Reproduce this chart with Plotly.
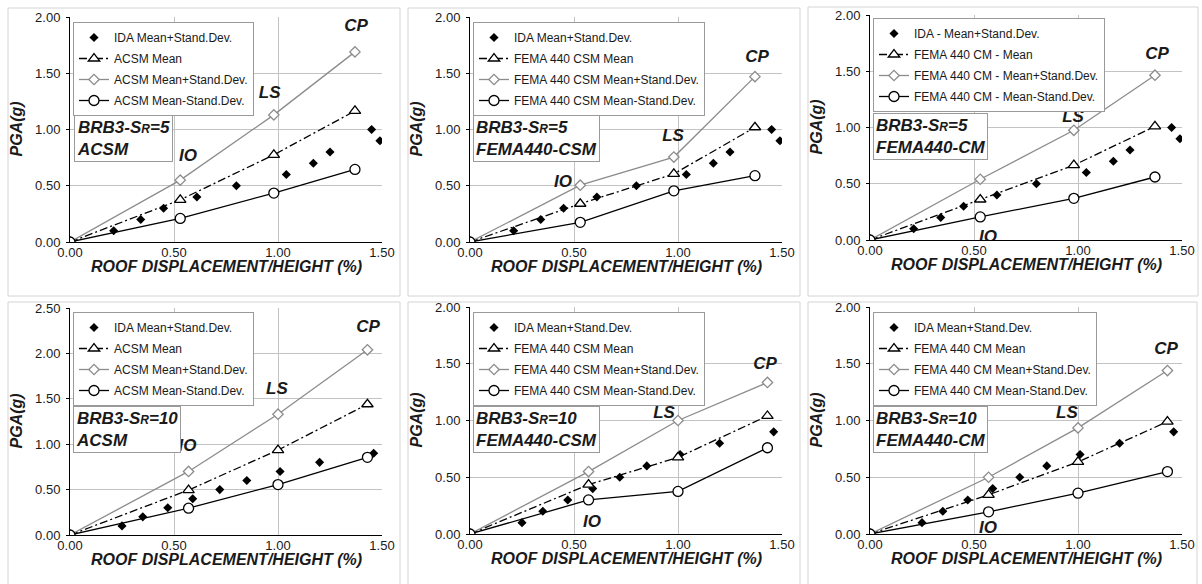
import plotly.graph_objects as go

W, H = 1202, 584

# ---------------- data ----------------
# IDA mean+stand.dev. points (top row: S_R=5, bottom row: S_R=10)
ida_x_sr5 = [0.00, 0.21, 0.34, 0.45, 0.61, 0.80, 1.04, 1.17, 1.25, 1.45, 1.49]
ida_y_sr5 = [0.00, 0.10, 0.20, 0.30, 0.40, 0.50, 0.60, 0.70, 0.80, 1.00, 0.90]
ida_x_sr10 = [0.00, 0.25, 0.35, 0.47, 0.59, 0.72, 0.85, 1.01, 1.20, 1.46]
ida_y_sr10 = [0.00, 0.10, 0.20, 0.30, 0.40, 0.50, 0.60, 0.70, 0.80, 0.90]

# drift at performance levels (origin, IO, LS, CP)
lim_x_sr5 = [0.00, 0.53, 0.98, 1.37]
lim_x_sr10 = [0.00, 0.57, 1.00, 1.43]

# method results: mean, mean+sd, mean-sd
acsm_sr5_mean = [0.00, 0.375, 0.775, 1.165]
acsm_sr5_plus = [0.00, 0.55, 1.13, 1.69]
acsm_sr5_minus = [0.00, 0.21, 0.435, 0.645]

csm_sr5_mean = [0.00, 0.34, 0.605, 1.02]
csm_sr5_plus = [0.00, 0.505, 0.755, 1.47]
csm_sr5_minus = [0.00, 0.175, 0.455, 0.59]

cm_sr5_mean = [0.00, 0.36, 0.665, 1.01]
cm_sr5_plus = [0.00, 0.54, 0.975, 1.465]
cm_sr5_minus = [0.00, 0.205, 0.37, 0.56]

acsm_sr10_mean = [0.00, 0.495, 0.935, 1.44]
acsm_sr10_plus = [0.00, 0.70, 1.33, 2.04]
acsm_sr10_minus = [0.00, 0.295, 0.555, 0.855]

csm_sr10_mean = [0.00, 0.435, 0.675, 1.04]
csm_sr10_plus = [0.00, 0.55, 1.00, 1.335]
csm_sr10_minus = [0.00, 0.30, 0.375, 0.76]

cm_sr10_mean = [0.00, 0.345, 0.635, 0.99]
cm_sr10_plus = [0.00, 0.50, 0.935, 1.44]
cm_sr10_minus = [0.00, 0.195, 0.36, 0.55]

names_acsm = ["IDA Mean+Stand.Dev.", "ACSM Mean", "ACSM Mean+Stand.Dev.", "ACSM Mean-Stand.Dev."]
names_csm = ["IDA Mean+Stand.Dev.", "FEMA 440 CSM Mean", "FEMA 440 CSM Mean+Stand.Dev.",
             "FEMA 440 CSM Mean-Stand.Dev."]
names_cm_a = ["IDA - Mean+Stand.Dev.", "FEMA 440 CM - Mean", "FEMA 440 CM - Mean+Stand.Dev.",
              "FEMA 440 CM - Mean-Stand.Dev."]
names_cm_b = ["IDA Mean+Stand.Dev.", "FEMA 440 CM Mean", "FEMA 440 CM Mean+Stand.Dev.",
              "FEMA 440 CM Mean-Stand.Dev."]

box_texts = [("5", "ACSM"), ("5", "FEMA440-CSM"), ("5", "FEMA440-CM"),
             ("10", "ACSM"), ("10", "FEMA440-CSM"), ("10", "FEMA440-CM")]

x_title = "ROOF DISPLACEMENT/HEIGHT (%)"
y_title = "PGA(g)"

perf_labels = ["IO", "LS", "CP"]
# label anchor positions in data units (x, y) for IO, LS, CP
label_pos = [
    [(0.567, 0.755), (0.96, 1.32), (1.375, 1.91)],
    [(0.447, 0.524), (0.976, 0.933), (1.38, 1.64)],
    [(0.567, 0.02), (0.976, 1.084), (1.38, 1.644)],
    [(0.565, 0.969), (0.995, 1.597), (1.433, 2.28)],
    [(0.587, 0.097), (0.933, 1.057), (1.418, 1.49)],
    [(0.567, 0.045), (0.947, 1.057), (1.423, 1.62)],
]

y_max = [2.0, 2.0, 2.0, 2.5, 2.0, 2.0]

panels = [
    (ida_x_sr5, ida_y_sr5, lim_x_sr5, acsm_sr5_mean, acsm_sr5_plus, acsm_sr5_minus, names_acsm),
    (ida_x_sr5, ida_y_sr5, lim_x_sr5, csm_sr5_mean, csm_sr5_plus, csm_sr5_minus, names_csm),
    (ida_x_sr5, ida_y_sr5, lim_x_sr5, cm_sr5_mean, cm_sr5_plus, cm_sr5_minus, names_cm_a),
    (ida_x_sr10, ida_y_sr10, lim_x_sr10, acsm_sr10_mean, acsm_sr10_plus, acsm_sr10_minus, names_acsm),
    (ida_x_sr10, ida_y_sr10, lim_x_sr10, csm_sr10_mean, csm_sr10_plus, csm_sr10_minus, names_csm),
    (ida_x_sr10, ida_y_sr10, lim_x_sr10, cm_sr10_mean, cm_sr10_plus, cm_sr10_minus, names_cm_b),
]

# ---------------- layout geometry (pixels) ----------------
plot_px = [  # x0, x1, ytop, ybottom
    (70, 382, 17, 242), (470, 782, 17, 242), (870, 1182, 15, 240),
    (70, 382, 308, 535), (470, 782, 307, 534), (870, 1182, 307, 534),
]
frame_px = [
    (8, 400, 8, 296), (408, 800, 8, 296), (808, 1198, 7, 296),
    (8, 400, 302, 600), (408, 800, 302, 600), (808, 1197, 302, 600),
]
legend_px = [(73, 22), (473, 22), (873, 18), (73, 312), (473, 312), (873, 312)]
box_px = [(74, 115), (473, 115), (873, 113), (73, 406), (473, 406), (873, 406)]


def px(x):
    return x / W


def py(y):
    return 1 - y / H


FONT = "Liberation Sans, Arial, sans-serif"
GRAY = "#8c8c8c"
GRID = "#c3c3c3"
TXT = "#1a1a1a"

fig = go.Figure()
layout = dict(
    template="none",
    width=W, height=H, margin=dict(l=0, r=0, t=0, b=0, autoexpand=False),
    paper_bgcolor="white", plot_bgcolor="white",
    font=dict(family=FONT, size=13, color=TXT),
    shapes=[], annotations=[],
)

for i, (ix, iy, lx, mean, plus, minus, names) in enumerate(panels):
    n = i + 1
    sfx = "" if n == 1 else str(n)
    xa, ya = "x" + sfx, "y" + sfx
    leg = "legend" + sfx

    common = dict(xaxis=xa, yaxis=ya, legend=leg, hoverinfo="skip")
    fig.add_trace(go.Scatter(x=ix, y=iy, mode="markers", name=names[0], legendgroup=f"a{n}",
                             marker=dict(symbol="diamond", size=7, color="black"), **common))
    fig.add_trace(go.Scatter(x=lx, y=mean, mode="lines+markers", name=names[1], legendgroup=f"b{n}",
                             line=dict(color="black", width=1.3, dash="8px,3px,2px,3px"),
                             marker=dict(symbol="triangle-up", size=10, color="white",
                                         line=dict(color="black", width=1.3)), **common))
    fig.add_trace(go.Scatter(x=lx, y=plus, mode="lines+markers", name=names[2], legendgroup=f"c{n}",
                             line=dict(color=GRAY, width=1.3),
                             marker=dict(symbol="diamond", size=8, color="white",
                                         line=dict(color=GRAY, width=1.3)), **common))
    fig.add_trace(go.Scatter(x=lx, y=minus, mode="lines+markers", name=names[3], legendgroup=f"d{n}",
                             line=dict(color="black", width=1.3),
                             marker=dict(symbol="circle", size=10, color="white",
                                         line=dict(color="black", width=1.3)), **common))
    # performance level labels (clipped to plot area like the original)
    fig.add_trace(go.Scatter(x=[p[0] for p in label_pos[i]], y=[p[1] for p in label_pos[i]],
                             mode="text", text=[f"<b><i>{t}</i></b>" for t in perf_labels],
                             textfont=dict(family=FONT, size=17, color=TXT), cliponaxis=True,
                             showlegend=False, xaxis=xa, yaxis=ya, hoverinfo="skip"))

    x0, x1, yt, yb = plot_px[i]
    layout["xaxis" + sfx] = dict(
        domain=[px(x0), px(x1)], anchor=ya, range=[0, 1.5], tickvals=[0, 0.5, 1.0, 1.5],
        tickformat=".2f", showgrid=True, gridcolor=GRID, gridwidth=1, zeroline=False,
        showline=True, linecolor="black", linewidth=1, ticks="", ticklabelstandoff=-2,
        tickfont=dict(size=13, color=TXT), automargin=False,
    )
    ym = y_max[i]
    layout["yaxis" + sfx] = dict(
        domain=[py(yb), py(yt)], anchor=xa, range=[0, ym],
        tickvals=[k * 0.5 for k in range(int(ym / 0.5) + 1)], tickformat=".2f",
        showgrid=True, gridcolor=GRID, gridwidth=1, zeroline=False,
        showline=True, linecolor="black", linewidth=1, ticks="outside", ticklen=3,
        tickcolor="black", tickfont=dict(size=13, color=TXT), automargin=False,
        ticklabelstandoff=3,
    )
    # axis titles
    layout["annotations"].append(dict(
        xref=xa + " domain", yref=ya + " domain", x=0.5, y=0, yshift=-24,
        xanchor="center", yanchor="middle", showarrow=False,
        text=f"<b><i>{x_title}</i></b>", font=dict(family=FONT, size=16, color=TXT)))
    layout["annotations"].append(dict(
        xref=xa + " domain", yref=ya + " domain", x=0, y=0.5, xshift=-54,
        xanchor="center", yanchor="middle", showarrow=False, textangle=-90,
        text=f"<b><i>{y_title}</i></b>", font=dict(family=FONT, size=16, color=TXT)))

    lxp, lyp = legend_px[i]
    layout[leg] = dict(
        x=px(lxp), y=py(lyp), xanchor="left", yanchor="top", bgcolor="white",
        bordercolor="#9a9a9a", borderwidth=1, font=dict(size=12, color=TXT),
        traceorder="grouped", tracegroupgap=2, itemwidth=30,
    )
    fx0, fx1, fyt, fyb = frame_px[i]
    layout["shapes"].append(dict(type="rect", xref="paper", yref="paper",
                                 x0=px(fx0), x1=px(fx1), y0=py(fyb), y1=py(fyt),
                                 line=dict(color="#d4d4d4", width=1), layer="below"))
    bx, by = box_px[i]
    sr, meth = box_texts[i]
    layout["annotations"].append(dict(
        xref="paper", yref="paper", x=px(bx), y=py(by), xanchor="left", yanchor="top",
        text=f"<b><i>BRB3-S<span style='font-size:12px'>R</span>={sr}<br>{meth}</i></b>",
        align="left", showarrow=False, font=dict(family=FONT, size=17, color=TXT),
        bgcolor="white", bordercolor="#9a9a9a", borderwidth=1, borderpad=2,
    ))

fig.update_layout(**layout)
fig.write_html("out.html")
